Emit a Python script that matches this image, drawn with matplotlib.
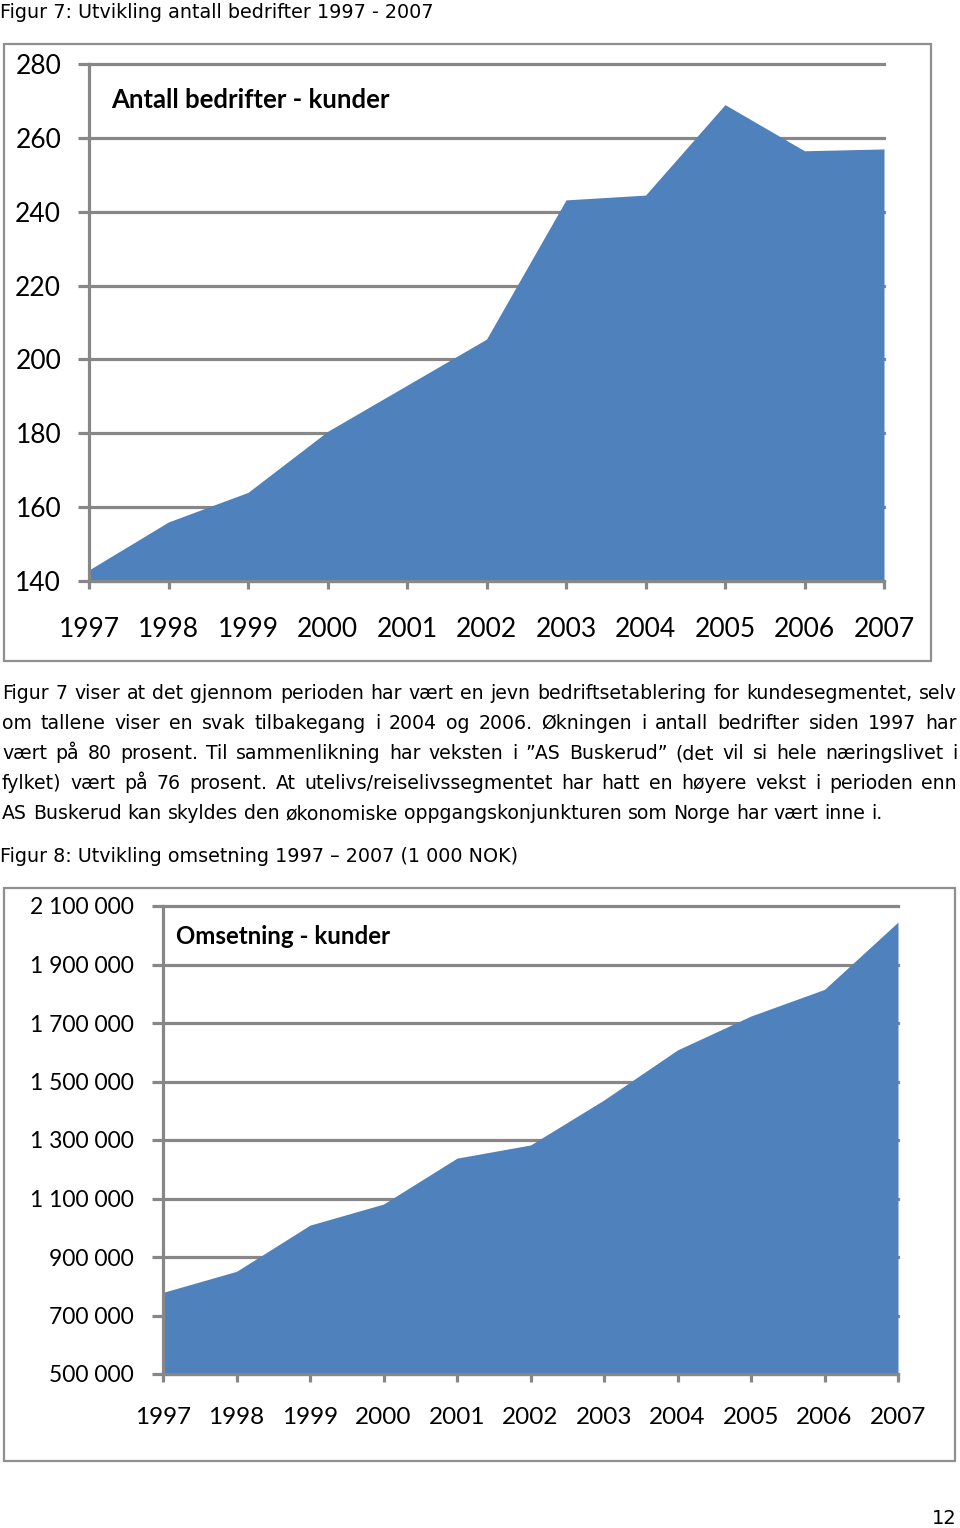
import matplotlib
matplotlib.use("Agg")
import matplotlib.pyplot as plt
from matplotlib.patches import Rectangle
from matplotlib.ticker import FuncFormatter

# Data
years = [1997, 1998, 1999, 2000, 2001, 2002, 2003, 2004, 2005, 2006, 2007]
bedrifter = [143, 156, 164, 180.5, 193, 205.5, 243.2, 244.5, 269, 256.5, 257]
omsetning = [779000, 851000, 1009000, 1081000, 1238000, 1283000,
             1437000, 1608000, 1724000, 1815000, 2045000]

tittel1 = "Figur 7: Utvikling antall bedrifter 1997 - 2007"
tittel2 = "Figur 8: Utvikling omsetning 1997 \u2013 2007 (1 000 NOK)"
avsnitt = [
    "Figur 7 viser at det gjennom perioden har vært en jevn bedriftsetablering for kundesegmentet, selv",
    "om tallene viser en svak tilbakegang i 2004 og 2006. Økningen i antall bedrifter siden 1997 har",
    "vært på 80 prosent. Til sammenlikning har veksten i \u201dAS Buskerud\u201d (det vil si hele næringslivet i",
    "fylket) vært på 76 prosent. At utelivs/reiselivssegmentet har hatt en høyere vekst i perioden enn",
    "AS Buskerud kan skyldes den økonomiske oppgangskonjunkturen som Norge har vært inne i.",
]

W, H = 960, 1528
BLUE = "#4F81BD"
GREY = "#878787"
CHART_FONT = ["Lato", "DejaVu Sans"]
PAGE_FONT = ["DejaVu Sans"]

fig = plt.figure(figsize=(W / 100, H / 100), dpi=100)
fig.patch.set_facecolor("white")
renderer = fig.canvas.get_renderer()


def fx(px):
    return px / W


def fy(py):
    return 1 - py / H


def box(x0, y0, x1, y1):
    fig.patches.append(Rectangle((fx(x0), fy(y1)), fx(x1 - x0), (y1 - y0) / H,
                                 transform=fig.transFigure, fill=False,
                                 ec="#8f8f8f", lw=1.6))


def text_w(s, fs):
    t = fig.text(0, 0, s, family=PAGE_FONT, fontsize=fs)
    w = t.get_window_extent(renderer).width
    t.remove()
    return w


def area_chart(rect, y, ylim, step, fmt, title, title_xy, xfs, yfs, tfs,
               ypad, xpad):
    x0, y0, x1, y1 = rect
    ax = fig.add_axes([fx(x0), fy(y1), fx(x1 - x0), (y1 - y0) / H])
    ax.fill_between(years, ylim[0], y, color=BLUE, lw=0, zorder=3)
    ax.set_xlim(years[0], years[-1])
    ax.set_ylim(*ylim)
    ax.set_xticks(years)
    ax.set_yticks(range(ylim[0], ylim[1] + 1, step))
    ax.yaxis.set_major_formatter(FuncFormatter(fmt))
    ax.grid(axis="y", color=GREY, lw=2.3, zorder=1)
    ax.set_axisbelow(True)
    for s in ["top", "right"]:
        ax.spines[s].set_visible(False)
    for s in ["left", "bottom"]:
        ax.spines[s].set_color(GREY)
        ax.spines[s].set_linewidth(2.3)
        ax.spines[s].set_zorder(4)
    ax.tick_params(axis="y", length=8, width=2.3, color=GREY, pad=ypad,
                   labelsize=yfs)
    ax.tick_params(axis="x", length=6, width=2.3, color=GREY, pad=xpad,
                   labelsize=xfs)
    for lab in ax.get_xticklabels() + ax.get_yticklabels():
        lab.set_family(CHART_FONT)
    for gl in ax.get_ygridlines():
        gl.set_clip_on(False)
    ax.set_facecolor("none")
    fig.text(fx(title_xy[0]), fy(title_xy[1]), title, family=CHART_FONT,
             fontweight="bold", fontsize=tfs, va="center", ha="left")
    return ax


def num_fmt(v, pos):
    return f"{int(v):,}".replace(",", " ")


TITLE_FS = 13.8

# Figure 7
fig.text(fx(0), fy(12), tittel1, family=PAGE_FONT, fontsize=TITLE_FS,
         va="center", ha="left")
box(4, 44, 931, 661)
area_chart((89, 64, 884, 581), bedrifter, (140, 280), 20,
           lambda v, p: f"{int(v)}", "Antall bedrifter - kunder", (111, 100),
           19, 19, 18.5, 12, 20)

# Paragraph (justified)
left, right = 2, 957
fs = TITLE_FS
while max(text_w(l, fs) for l in avsnitt) > (right - left) * 0.99:
    fs -= 0.1
sw = text_w("a a", fs) - text_w("aa", fs)
for i, line in enumerate(avsnitt):
    ypos = fy(699 + 30 * i)
    words = line.split(" ")
    texts = [fig.text(0, ypos, w, family=PAGE_FONT, fontsize=fs,
                      va="baseline", ha="left") for w in words]
    widths = [t.get_window_extent(renderer).width for t in texts]
    if i < len(avsnitt) - 1:
        gap = (right - left - sum(widths)) / (len(words) - 1)
    else:
        gap = sw
    xpos = left
    for t, w in zip(texts, widths):
        t.set_x(fx(xpos))
        xpos += w + gap

# Figure 8
fig.text(fx(0), fy(856), tittel2, family=PAGE_FONT, fontsize=TITLE_FS,
         va="center", ha="left")
box(4, 888, 955, 1461)
area_chart((163, 906, 898, 1374), omsetning, (500000, 2100000), 200000,
           num_fmt, "Omsetning - kunder", (176, 936), 17.5, 16.5, 17.3, 13, 18)

fig.text(fx(957), fy(1518), "12", family=PAGE_FONT, fontsize=14,
         va="center", ha="right")

fig.savefig("out.png", dpi=100)
